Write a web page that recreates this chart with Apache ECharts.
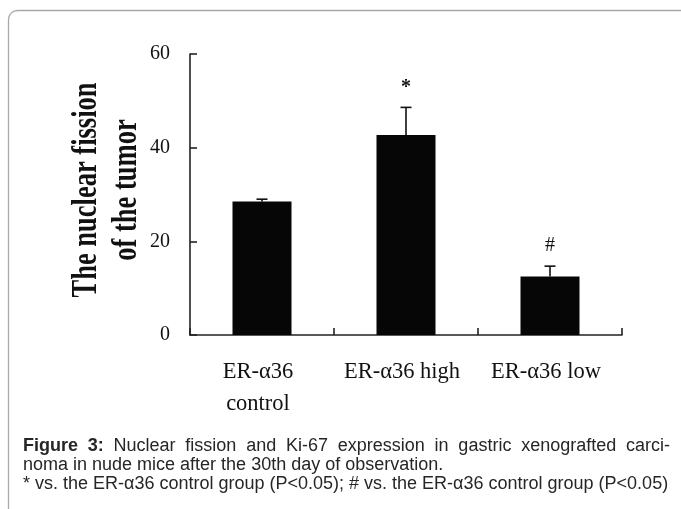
<!DOCTYPE html>
<html>
<head>
<meta charset="utf-8">
<script src="https://cdn.jsdelivr.net/npm/echarts@6/dist/echarts.min.js"></script>
<style>
html,body{margin:0;padding:0;background:#fff;}
#chart{width:681px;height:509px;}
</style>
</head>
<body>
<div id="chart"></div>
<script>
// ---- data ----
var categories = ['ER-\u03b136\ncontrol', 'ER-\u03b136 high', 'ER-\u03b136 low'];
var meanValues = [28.5, 42.7, 12.5];
var errorValues = [0.5, 5.9, 2.2];
var sigMarks = ['', '*', '#'];
var yAxisTitle = 'The nuclear fission\nof the tumor';
var captionLabel = 'Figure 3:';
var captionLines = [
  'Nuclear fission and Ki-67 expression in gastric xenografted carci-',
  'noma in nude mice after the 30th day of observation.',
  '* vs. the ER-\u03b136 control group (P<0.05); # vs. the ER-\u03b136 control group (P<0.05)'
];

var serif = '"Liberation Serif", "Times New Roman", serif';
var sans = '"Liberation Sans", Arial, sans-serif';
var capSize = 18;
var capLH = 19;

// justify the first caption line across the caption width
var capWidth = 647;
var mctx = document.createElement('canvas').getContext('2d');
function measure(t, bold) {
  mctx.font = (bold ? 'bold ' : '') + capSize + 'px ' + sans;
  return mctx.measureText(t).width;
}
var boldWords = captionLabel.split(' ');
var normWords = captionLines[0].split(' ');
var natural = 0;
boldWords.forEach(function (w) { natural += measure(w, true); });
normWords.forEach(function (w) { natural += measure(w, false); });
var nSpaces = boldWords.length + normWords.length - 1;
var spW = Math.max(3, (capWidth - natural) / nSpaces);
var segs = [];
boldWords.forEach(function (w) { segs.push('{b|' + w + '}'); });
normWords.forEach(function (w) { segs.push('{n|' + w + '}'); });
var line1 = segs.join('{sp| }');

var chart = echarts.init(document.getElementById('chart'), null, {renderer: 'canvas'});
var errData = meanValues.map(function (m, i) { return [i, m, m + errorValues[i]]; });
var capColor = '#262626';

var option = {
  animation: false,
  backgroundColor: '#fff',
  title: {
    left: 23,
    top: 437,
    padding: 0,
    text: line1 + '\n' + captionLines[1] + '\n' + captionLines[2],
    textStyle: {
      fontFamily: sans, fontSize: capSize, fontWeight: 'normal', color: capColor, lineHeight: capLH,
      rich: {
        b: {fontFamily: sans, fontSize: capSize, fontWeight: 'bold', color: capColor, lineHeight: capLH},
        n: {fontFamily: sans, fontSize: capSize, color: capColor, lineHeight: capLH},
        sp: {fontFamily: sans, fontSize: capSize, color: capColor, lineHeight: capLH, width: spW}
      }
    }
  },
  graphic: [{
    type: 'rect', silent: true,
    shape: {x: 8.5, y: 10.5, width: 760, height: 560, r: 9},
    style: {fill: 'none', stroke: '#a8a8a8', lineWidth: 1.3}
  }, {
    type: 'text', silent: true,
    x: 107, y: 190,
    rotation: Math.PI / 2,
    scaleY: 1.32,
    style: {
      text: yAxisTitle,
      font: 'bold 26.5px ' + serif,
      lineHeight: 31,
      align: 'center', verticalAlign: 'middle',
      fill: '#111'
    }
  }],
  grid: {left: 190, top: 54, right: 59, bottom: 174, containLabel: false},
  xAxis: {
    type: 'category',
    data: categories,
    axisLine: {show: true, lineStyle: {color: '#222', width: 1.6}},
    axisTick: {show: true, inside: true, length: 7, alignWithLabel: false, lineStyle: {color: '#222', width: 1.6}},
    axisLabel: {fontFamily: serif, fontSize: 22.5, color: '#111', margin: 21, lineHeight: 32, interval: 0,
      padding: [0, 8, 0, 0]},
    splitLine: {show: false}
  },
  yAxis: {
    type: 'value',
    min: 0, max: 60, interval: 20,
    axisLine: {show: true, lineStyle: {color: '#222', width: 1.6}},
    axisTick: {show: true, inside: true, length: 7, lineStyle: {color: '#222', width: 1.6}},
    axisLabel: {fontFamily: serif, fontSize: 20, color: '#111', margin: 20},
    splitLine: {show: false}
  },
  series: [{
    type: 'bar',
    data: meanValues,
    barWidth: 59,
    itemStyle: {color: '#060606'},
    z: 2
  }, {
    type: 'custom',
    data: errData,
    z: 3,
    renderItem: function (params, api) {
      var x = api.coord([api.value(0), 0])[0];
      var yMean = api.coord([api.value(0), api.value(1)])[1];
      var yTop = api.coord([api.value(0), api.value(2)])[1];
      var mark = sigMarks[params.dataIndex];
      var children = [
        {type: 'line', shape: {x1: x, y1: yMean, x2: x, y2: yTop}, style: {stroke: '#111', lineWidth: 1.6}},
        {type: 'line', shape: {x1: x - 5.5, y1: yTop, x2: x + 5.5, y2: yTop}, style: {stroke: '#111', lineWidth: 1.6}}
      ];
      if (mark) {
        children.push({type: 'text', style: {text: mark, x: x, y: yTop - 20, align: 'center', verticalAlign: 'middle',
          font: (mark === '*' ? 'bold 20px ' : '20px ') + serif, fill: '#111'}});
      }
      return {type: 'group', children: children};
    }
  }]
};
chart.setOption(option);
</script>
</body>
</html>
